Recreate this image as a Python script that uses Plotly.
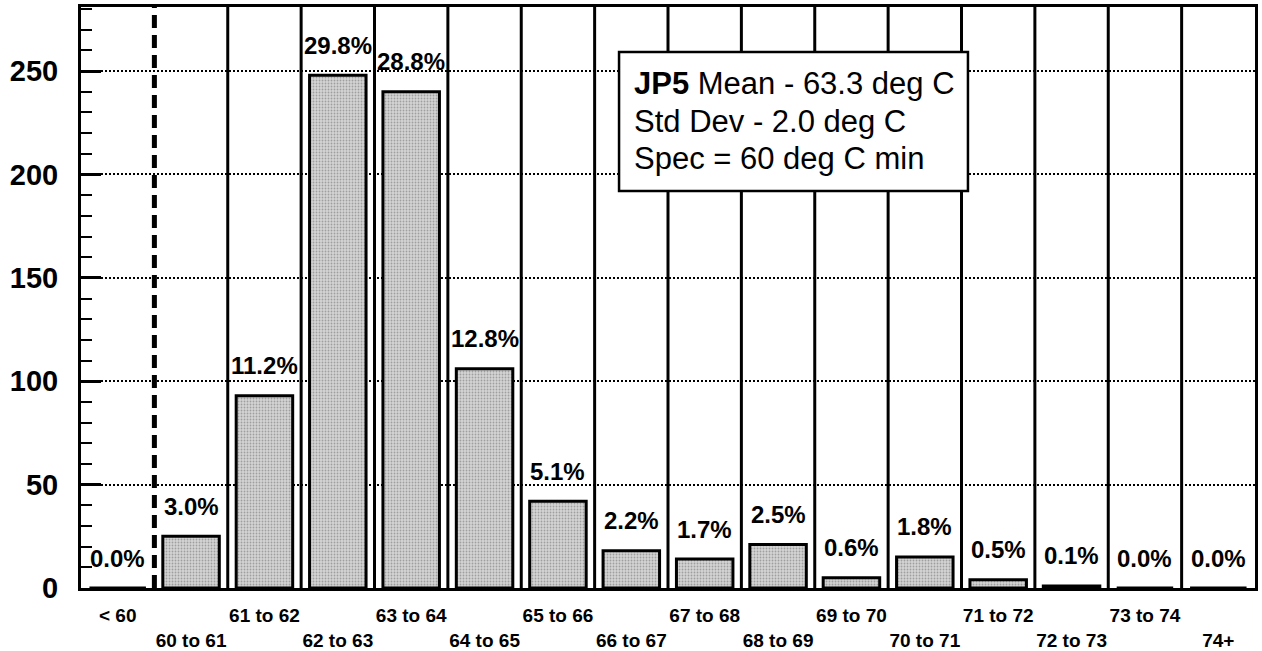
import plotly.graph_objects as go

categories = ["< 60", "60 to 61", "61 to 62", "62 to 63", "63 to 64", "64 to 65",
              "65 to 66", "66 to 67", "67 to 68", "68 to 69", "69 to 70", "70 to 71",
              "71 to 72", "72 to 73", "73 to 74", "74+"]
counts = [0, 25, 93, 248, 240, 106, 42, 18, 14, 21, 5, 15, 4, 1, 0, 0]
pct_labels = ["0.0%", "3.0%", "11.2%", "29.8%", "28.8%", "12.8%", "5.1%", "2.2%",
              "1.7%", "2.5%", "0.6%", "1.8%", "0.5%", "0.1%", "0.0%", "0.0%"]
y_ticks = [0, 50, 100, 150, 200, 250]
box_lines = ["<b>JP5</b> Mean - 63.3 deg C", "Std Dev - 2.0 deg C", "Spec = 60 deg C min"]

FONT = "Liberation Sans, Arial, Helvetica, sans-serif"

# staggered tick labels: odd ones pushed to a second row
tick_text = [c if i % 2 == 0 else "<br>" + c for i, c in enumerate(categories)]

fig = go.Figure()
fig.add_trace(go.Bar(
    x=categories, y=counts,
    marker=dict(color="#bdbdbd", line=dict(color="black", width=3),
                pattern=dict(shape=".", fgcolor="#6a6a6a", bgcolor="#d4d4d4",
                             size=3, solidity=0.3)),
    width=0.77, hoverinfo="skip",
))

# percent labels above bars
for c, v, t in zip(categories, counts, pct_labels):
    fig.add_annotation(x=c, y=v, text=t, showarrow=False, yshift=30,
                       font=dict(family=FONT, size=24, color="black", weight="bold"))

# category boundary lines (first one = spec line, dashed)
for i in range(len(categories) - 1):
    if i == 0:
        line = dict(color="black", width=5, dash="13px,7px")
    else:
        line = dict(color="black", width=3)
    fig.add_shape(type="line", xref="x", yref="paper", x0=i + 0.5, x1=i + 0.5,
                  y0=0, y1=1, line=line)

# info box
fig.add_shape(type="rect", xref="paper", yref="paper",
              x0=0.4583, x1=0.7555, y0=0.6833, y1=0.9225,
              fillcolor="white", line=dict(color="black", width=2.5), layer="above")
for line_text, ypos in zip(box_lines, [0.8675, 0.8021, 0.7384]):
    fig.add_annotation(xref="paper", yref="paper", x=0.4693, y=ypos,
                       xanchor="left", yanchor="middle", showarrow=False,
                       text=line_text, align="left",
                       font=dict(family=FONT, size=31, color="black"))

fig.update_layout(
    width=1262, height=651,
    margin=dict(l=81, r=7, t=7, b=63),
    paper_bgcolor="white", plot_bgcolor="white",
    showlegend=False,
    font=dict(family=FONT, color="black"),
    xaxis=dict(type="category", tickvals=categories, ticktext=tick_text,
               ticks="", showgrid=False, showline=True, linecolor="black",
               linewidth=3, mirror=True, range=[-0.5, len(categories) - 0.5],
               tickangle=0,
               tickfont=dict(family=FONT, size=19, color="black", weight="bold"),
               ticklabelstandoff=8, automargin=False),
    yaxis=dict(range=[0, 281], tickvals=y_ticks, ticks="inside", ticklen=20,
               tickwidth=3, tickcolor="black",
               minor=dict(ticks="inside", ticklen=11, tickwidth=2, dtick=10,
                          tickcolor="black", showgrid=False),
               showgrid=True, gridcolor="black", gridwidth=2, griddash="2px,2px",
               showline=True, linecolor="black", linewidth=3, mirror=True,
               zeroline=False, automargin=False,
               tickfont=dict(family=FONT, size=29, color="black", weight="bold"),
               ticklabelstandoff=14),
)

fig.write_html("out.html", config={"displayModeBar": False},
               post_script="document.body.style.margin='0';document.body.style.padding='0';")
